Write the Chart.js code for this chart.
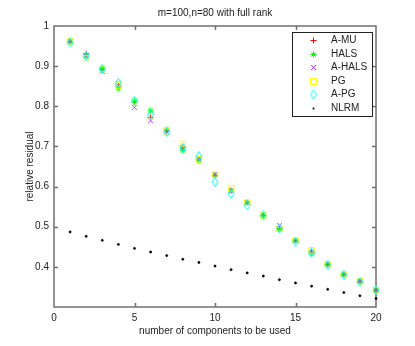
<!DOCTYPE html>
<html>
<head>
<meta charset="utf-8">
<title>relative residual</title>
<script src="https://cdn.jsdelivr.net/npm/chart.js@4.4.0/dist/chart.umd.min.js"></script>
<style>
    html, body { margin: 0; padding: 0; background: #fff; }
    #wrap { width: 415px; height: 346px; }
</style>
</head>
<body>
<div id="wrap"><canvas id="residualChart" width="415" height="346"></canvas></div>
<script>
// Data
const components = [1, 2, 3, 4, 5, 6, 7, 8, 9, 10, 11, 12, 13, 14, 15, 16, 17, 18, 19, 20];
const aMU   = [0.961, 0.931, 0.893, 0.848, 0.810, 0.772, 0.738, 0.697, 0.668, 0.628, 0.590, 0.560, 0.528, 0.495, 0.465, 0.437, 0.406, 0.381, 0.364, 0.342];
const hals  = [0.961, 0.925, 0.894, 0.845, 0.815, 0.789, 0.742, 0.690, 0.664, 0.628, 0.590, 0.560, 0.528, 0.493, 0.465, 0.432, 0.406, 0.381, 0.364, 0.342];
const aHALS = [0.961, 0.925, 0.887, 0.857, 0.797, 0.764, 0.736, 0.697, 0.668, 0.630, 0.590, 0.560, 0.531, 0.503, 0.465, 0.437, 0.406, 0.381, 0.364, 0.342];
const pg    = [0.962, 0.919, 0.893, 0.852, 0.810, 0.775, 0.738, 0.706, 0.668, 0.630, 0.596, 0.560, 0.528, 0.496, 0.465, 0.441, 0.406, 0.381, 0.364, 0.342];
const aPG   = [0.959, 0.925, 0.893, 0.858, 0.812, 0.780, 0.736, 0.697, 0.676, 0.612, 0.582, 0.553, 0.528, 0.496, 0.463, 0.436, 0.405, 0.380, 0.363, 0.342];
const nlrm  = [0.487, 0.476, 0.466, 0.456, 0.446, 0.437, 0.428, 0.419, 0.411, 0.402, 0.393, 0.385, 0.377, 0.368, 0.360, 0.352, 0.344, 0.336, 0.328, 0.321];
const xTicks = [5, 10, 15];
const yTicks = [0.4, 0.5, 0.6, 0.7, 0.8, 0.9];

const FONT = '"Liberation Sans", Arial, Helvetica, sans-serif';
const AXIS_COLOR = '#6f6f6f';

// tall diamond like the MATLAB 'd' marker
function makeDiamond(color) {
    const c = document.createElement('canvas');
    c.width = 8;
    c.height = 10;
    const g = c.getContext('2d');
    g.strokeStyle = color;
    g.lineWidth = 1;
    g.beginPath();
    g.moveTo(4, 0.5);
    g.lineTo(7, 5);
    g.lineTo(4, 9.5);
    g.lineTo(1, 5);
    g.closePath();
    g.stroke();
    return c;
}
const diamond = makeDiamond('#00ffff');

function toPoints(values) {
    return components.map((c, i) => ({ x: c, y: values[i] }));
}

function series(label, values, color, style, radius, order) {
    return {
        label: label,
        data: toPoints(values),
        borderColor: color,
        backgroundColor: color,
        pointStyle: style,
        pointRadius: radius,
        pointHoverRadius: radius,
        pointBorderWidth: 0.9,
        showLine: false,
        clip: false,
        order: order
    };
}

const datasets = [
    series('A-MU', aMU, '#ff0000', 'cross', 3, 6),
    series('HALS', hals, '#00ff00', 'star', 3, 5),
    series('A-HALS', aHALS, '#a840ff', 'crossRot', 3.5, 4),
    Object.assign(series('PG', pg, '#ffff00', 'rect', 4, 3), { backgroundColor: 'rgba(0,0,0,0)' }),
    series('A-PG', aPG, '#00ffff', diamond, 5, 2),
    series('NLRM', nlrm, '#000000', 'circle', 1, 1)
];

// Box round the axes with inward ticks
const axisBox = {
    id: 'axisBox',
    beforeDatasetsDraw(chart) {
        const { ctx, chartArea: a, scales } = chart;
        const len = 4;
        ctx.save();
        ctx.strokeStyle = AXIS_COLOR;
        ctx.lineWidth = 1.5;
        ctx.strokeRect(a.left, a.top, a.right - a.left, a.bottom - a.top);
        ctx.beginPath();
        xTicks.forEach(v => {
            const px = Math.round(scales.x.getPixelForValue(v)) + 0.5;
            ctx.moveTo(px, a.bottom);
            ctx.lineTo(px, a.bottom - len);
            ctx.moveTo(px, a.top);
            ctx.lineTo(px, a.top + len);
        });
        yTicks.forEach(v => {
            const py = Math.round(scales.y.getPixelForValue(v)) + 0.5;
            ctx.moveTo(a.left, py);
            ctx.lineTo(a.left + len, py);
            ctx.moveTo(a.right, py);
            ctx.lineTo(a.right - len, py);
        });
        ctx.stroke();
        ctx.restore();
    }
};

function drawMarker(ctx, ds, x, y) {
    const r = ds.pointRadius;
    ctx.strokeStyle = ds.borderColor;
    ctx.fillStyle = ds.borderColor;
    ctx.lineWidth = 1;
    ctx.beginPath();
    switch (ds.pointStyle) {
        case 'cross':
            ctx.moveTo(x, y - r); ctx.lineTo(x, y + r);
            ctx.moveTo(x - r, y); ctx.lineTo(x + r, y);
            ctx.stroke();
            break;
        case 'star': {
            const d = r * Math.SQRT1_2;
            ctx.moveTo(x, y - r); ctx.lineTo(x, y + r);
            ctx.moveTo(x - r, y); ctx.lineTo(x + r, y);
            ctx.moveTo(x - d, y - d); ctx.lineTo(x + d, y + d);
            ctx.moveTo(x - d, y + d); ctx.lineTo(x + d, y - d);
            ctx.stroke();
            break;
        }
        case 'crossRot': {
            const d = r * Math.SQRT1_2;
            ctx.moveTo(x - d, y - d); ctx.lineTo(x + d, y + d);
            ctx.moveTo(x - d, y + d); ctx.lineTo(x + d, y - d);
            ctx.stroke();
            break;
        }
        case 'rect':
            ctx.rect(x - 3, y - 3, 6, 6);
            ctx.stroke();
            break;
        case 'circle':
            ctx.arc(x, y, r, 0, Math.PI * 2);
            ctx.fill();
            break;
        default:
            ctx.drawImage(ds.pointStyle, x - ds.pointStyle.width / 2, y - ds.pointStyle.height / 2);
    }
}

// Legend box inside the plot, upper right
const insideLegend = {
    id: 'insideLegend',
    afterDraw(chart) {
        const { ctx } = chart;
        const box = { left: 292, top: 32, width: 80, height: 84 };
        ctx.save();
        ctx.fillStyle = '#fff';
        ctx.fillRect(box.left, box.top, box.width, box.height);
        ctx.strokeStyle = '#222';
        ctx.lineWidth = 1;
        ctx.strokeRect(box.left + 0.5, box.top + 0.5, box.width, box.height);
        ctx.font = '10px ' + FONT;
        ctx.textBaseline = 'middle';
        ctx.textAlign = 'left';
        datasets.forEach((ds, i) => {
            const y = Math.round(box.top + 8 + i * 13.6) + 0.5;
            drawMarker(ctx, ds, 313.5, y);
            ctx.fillStyle = '#222';
            ctx.fillText(ds.label, 331, y);
        });
        ctx.restore();
    }
};

const ctx = document.getElementById('residualChart').getContext('2d');

new Chart(ctx, {
    type: 'scatter',
    data: { datasets: datasets },
    options: {
        responsive: false,
        animation: false,
        devicePixelRatio: 1,
        layout: { padding: 0 },
        plugins: {
            legend: { display: false },
            tooltip: { enabled: false },
            title: { display: false }
        },
        scales: {
            x: {
                type: 'linear',
                position: 'bottom',
                min: 0,
                max: 20,
                border: { display: false },
                grid: { display: false, drawTicks: false },
                ticks: {
                    stepSize: 5,
                    padding: 5,
                    color: '#222',
                    font: { family: FONT, size: 10 }
                },
                title: {
                    display: true,
                    text: 'number of components to be used',
                    color: '#222',
                    font: { family: FONT, size: 10 },
                    padding: { top: 0, bottom: 9 }
                },
                afterFit: (scale) => { scale.height = 39; }
            },
            xTop: {
                type: 'linear',
                position: 'top',
                min: 0,
                max: 20,
                border: { display: false },
                grid: { display: false, drawTicks: false },
                ticks: { display: false },
                title: {
                    display: true,
                    text: 'm=100,n=80 with full rank',
                    color: '#222',
                    font: { family: FONT, size: 10 },
                    padding: { top: 7, bottom: 0 }
                },
                afterFit: (scale) => { scale.height = 26; }
            },
            y: {
                type: 'linear',
                position: 'left',
                min: 0.3,
                max: 1,
                border: { display: false },
                grid: { display: false, drawTicks: false },
                ticks: {
                    stepSize: 0.1,
                    padding: 5,
                    color: '#222',
                    font: { family: FONT, size: 10 },
                    callback: (v) => {
                        const r = Math.round(v * 10) / 10;
                        if (r < 0.35) return '';
                        return r === 1 ? '1' : r.toFixed(1);
                    }
                },
                title: {
                    display: true,
                    text: 'relative residual',
                    color: '#222',
                    font: { family: FONT, size: 10 },
                    padding: { top: 24, bottom: 0 }
                },
                afterFit: (scale) => { scale.width = 54; }
            },
            yRight: {
                type: 'linear',
                position: 'right',
                min: 0.3,
                max: 1,
                border: { display: false },
                grid: { display: false, drawTicks: false },
                ticks: { display: false },
                afterFit: (scale) => { scale.width = 39; }
            }
        }
    },
    plugins: [axisBox, insideLegend]
});
</script>
</body>
</html>
